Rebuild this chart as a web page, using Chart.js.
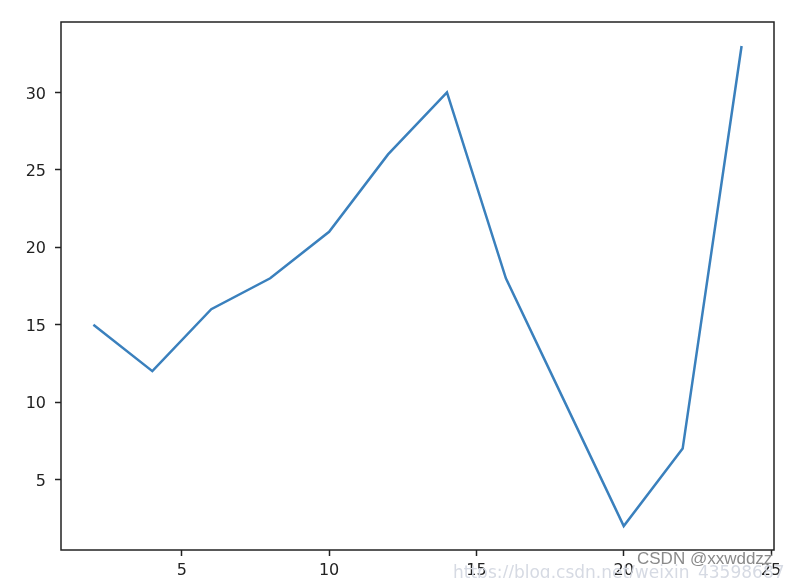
<!DOCTYPE html>
<html lang="en">
<head>
  <meta charset="UTF-8" />
  <title>Line chart</title>
  <script src="https://cdn.jsdelivr.net/npm/chart.js@4.4.1"></script>
  <style>
    body { margin:0; background:#fff; }
    .wrap { position:relative; width:794px; height:578px; overflow:hidden; }
    .url { position:absolute; left:453px; top:562px; font:17px "DejaVu Sans", sans-serif; color:#d6dae3; white-space:nowrap; }
    .mark { position:absolute; left:637px; top:549px; font:17px "Liberation Sans", Arial, sans-serif; color:#8a8a8a;
            text-shadow:0 0 2px #fff, 0 0 2px #fff; white-space:nowrap; }
  </style>
</head>
<body>
<div class="wrap">
  <canvas id="myChart" width="794" height="578"></canvas>
  <div class="url">https://blog.csdn.net/weixin_43598687</div>
  <div class="mark">CSDN @xxwddzz</div>
</div>

<script>
  var xs = [2, 4, 6, 8, 10, 12, 14, 16, 18, 20, 22, 24];
  var ys = [15, 12, 16, 18, 21, 26, 30, 18, 10, 2, 7, 33];
  var xTicks = [5, 10, 15, 20, 25];
  var yTicks = [5, 10, 15, 20, 25, 30];

  var pts = [];
  for (var i = 0; i < xs.length; i++) pts.push({ x: xs[i], y: ys[i] });

  var INK = '#222';
  var FONT = { family: '"DejaVu Sans", sans-serif', size: 16 };

  function fixTicks(list){
    return function(scale){ scale.ticks = list.map(function(v){ return { value: v }; }); };
  }

  // matplotlib style box round the plot area
  var frame = {
    id: 'frame',
    afterDraw: function(c){
      var a = c.chartArea, g = c.ctx;
      g.save();
      g.strokeStyle = INK;
      g.lineWidth = 1.5;
      g.strokeRect(a.left, a.top, a.right - a.left, a.bottom - a.top);
      g.restore();
    }
  };

  new Chart(document.getElementById('myChart'), {
    type: 'line',
    data: { datasets: [{ data: pts, borderColor: '#3a80bd', borderWidth: 2.5,
                         pointRadius: 0, fill: false, tension: 0 }] },
    options: {
      responsive: false,
      animation: false,
      layout: { padding: { left: 0, top: 22, right: 20, bottom: 0 } },
      plugins: { legend: { display: false }, tooltip: { enabled: false } },
      scales: {
        x: {
          type: 'linear', min: 0.9, max: 25.1,
          afterBuildTicks: fixTicks(xTicks),
          afterFit: function(s){ s.height = 28; },
          border: { display: false },
          grid: { drawOnChartArea: false, drawTicks: true, tickLength: 6, tickColor: INK, tickWidth: 1.5 },
          ticks: { color: INK, font: FONT, padding: 5, maxRotation: 0 }
        },
        y: {
          min: 0.45, max: 34.55,
          afterBuildTicks: fixTicks(yTicks),
          afterFit: function(s){ s.width = 61; },
          border: { display: false },
          grid: { drawOnChartArea: false, drawTicks: true, tickLength: 6, tickColor: INK, tickWidth: 1.5 },
          ticks: { color: INK, font: FONT, padding: 9, labelOffset: 2 }
        }
      }
    },
    plugins: [frame]
  });
</script>
</body>
</html>
